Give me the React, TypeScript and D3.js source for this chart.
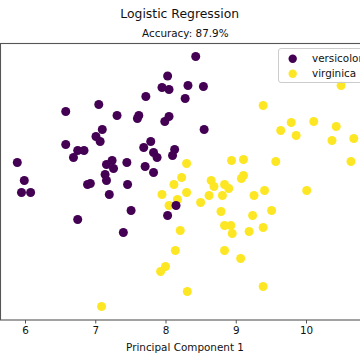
import React, { useEffect, useRef } from 'react';
import * as d3 from 'd3';

// versicolor points (PC1, PC2)
const versicolorX = [8.43, 8.03, 7.95, 8.05, 8.32, 8.54, 7.72, 8.28, 7.05, 6.58, 7.31, 7.62, 7.6, 8.05, 7.99, 7.1, 8.55, 7.01, 7.07, 6.58, 7.79, 7.69, 7.83, 7.88, 8.13, 8.1, 6.75, 6.84, 6.69, 5.89, 7.24, 7.16, 7.26, 7.45, 7.71, 7.83, 7.14, 5.99, 5.95, 6.08, 6.89, 6.93, 7.16, 7.46, 7.2, 6.75, 7.51, 7.4, 8.15, 8.03];
const versicolorY = [1.25, 1.055, 0.94, 0.92, 0.96, 0.95, 0.85, 0.83, 0.77, 0.7, 0.66, 0.66, 0.63, 0.65, 0.6, 0.52, 0.52, 0.45, 0.4, 0.37, 0.4, 0.34, 0.29, 0.24, 0.32, 0.26, 0.31, 0.31, 0.24, 0.19, 0.21, 0.17, 0.13, 0.19, 0.15, 0.09, 0.07, 0.01, -0.11, -0.11, -0.03, -0.02, 0.01, -0.03, -0.13, -0.38, -0.29, -0.51, -0.24, -0.34];

// virginica points (PC1, PC2)
const virginicaX = [10.5, 9.39, 9.79, 10.11, 9.64, 10.43, 9.86, 10.37, 10.68, 8.3, 8.94, 9.11, 9.57, 10.64, 8.23, 8.65, 8.69, 9.11, 9.08, 8.84, 8.9, 8.12, 8.3, 7.95, 8.17, 8.05, 8.62, 8.81, 8.5, 9.26, 9.41, 10.01, 8.79, 9.24, 9.51, 8.84, 8.93, 8.95, 9.19, 9.39, 8.21, 8.14, 8.84, 9.07, 8.0, 7.93, 9.39, 8.31, 7.09];
const virginicaY = [0.96, 0.76, 0.59, 0.6, 0.51, 0.55, 0.46, 0.41, 0.43, 0.18, 0.21, 0.22, 0.2, 0.2, 0.04, 0.01, -0.05, 0.06, 0.03, -0.03, -0.07, -0.03, -0.11, -0.13, -0.18, -0.24, -0.14, -0.14, -0.21, -0.14, -0.09, -0.09, -0.3, -0.34, -0.29, -0.44, -0.44, -0.52, -0.5, -0.46, -0.49, -0.69, -0.69, -0.77, -0.85, -0.9, -1.05, -1.1, -1.25];

const xTicks = [6, 7, 8, 9, 10];
const classNames = ['versicolor', 'virginica'];
const classColors = ['#440154', '#fde725'];

const App = () => {
  const chartRef = useRef(null);

  useEffect(() => {
    const svg = d3.select(chartRef.current);
    svg.selectAll('*').remove();

    const width = 360;
    const height = 360;
    const font = 'DejaVu Sans, sans-serif';
    const plot = { left: 0.5, right: 370, top: 43, bottom: 319.5 };

    svg.attr('width', width).attr('height', height);

    const xScale = d3.scaleLinear()
      .domain([5.644, 10.911])
      .range([0, 370]);

    const yScale = d3.scaleLinear()
      .domain([-1.385, 1.385])
      .range([320, 43]);

    svg.append('rect')
      .attr('width', width)
      .attr('height', height)
      .style('fill', '#fff');

    // points, virginica below versicolor
    const series = [
      { xs: virginicaX, ys: virginicaY, color: classColors[1] },
      { xs: versicolorX, ys: versicolorY, color: classColors[0] }
    ];
    series.forEach(s => {
      svg.append('g')
        .selectAll('circle')
        .data(s.xs.map((x, i) => [x, s.ys[i]]))
        .enter()
        .append('circle')
        .attr('cx', d => xScale(d[0]))
        .attr('cy', d => yScale(d[1]))
        .attr('r', 4.5)
        .style('fill', s.color);
    });

    // spines
    svg.append('rect')
      .attr('x', plot.left)
      .attr('y', plot.top + 0.5)
      .attr('width', plot.right - plot.left)
      .attr('height', plot.bottom - plot.top)
      .style('fill', 'none')
      .style('stroke', '#555')
      .style('stroke-width', 1.1);

    // x axis
    const xAxis = svg.append('g')
      .attr('transform', `translate(0,${plot.bottom + 0.5})`)
      .call(d3.axisBottom(xScale).tickValues(xTicks).tickSize(3.5).tickPadding(3.5).tickFormat(d3.format('d')));
    xAxis.select('.domain').remove();
    xAxis.selectAll('line').style('stroke', '#555');
    xAxis.selectAll('text')
      .style('font-family', font)
      .style('font-size', '10.4px')
      .style('fill', '#111');

    svg.append('text')
      .attr('x', 185)
      .attr('y', 350.5)
      .attr('text-anchor', 'middle')
      .style('font-family', font)
      .style('font-size', '10.4px')
      .style('fill', '#111')
      .text('Principal Component 1');

    // titles
    svg.append('text')
      .attr('x', 179.7)
      .attr('y', 17.5)
      .attr('text-anchor', 'middle')
      .style('font-family', font)
      .style('font-size', '12.4px')
      .style('fill', '#111')
      .text('Logistic Regression');

    svg.append('text')
      .attr('x', 185.3)
      .attr('y', 36.5)
      .attr('text-anchor', 'middle')
      .style('font-family', font)
      .style('font-size', '10.4px')
      .style('fill', '#111')
      .text('Accuracy: 87.9%');

    // legend
    const legend = svg.append('g').attr('transform', 'translate(278.5,48.5)');
    legend.append('rect')
      .attr('width', 100)
      .attr('height', 34)
      .attr('rx', 2.5)
      .style('fill', '#fff')
      .style('fill-opacity', 0.8)
      .style('stroke', '#ccc');

    const items = legend.selectAll('.legend-item')
      .data(classNames)
      .enter()
      .append('g')
      .attr('class', 'legend-item')
      .attr('transform', (d, i) => `translate(0,${10.2 + i * 15})`);

    items.append('circle')
      .attr('cx', 14.2)
      .attr('r', 4.2)
      .style('fill', (d, i) => classColors[i]);

    items.append('text')
      .attr('x', 33.5)
      .attr('y', 3.7)
      .style('font-family', font)
      .style('font-size', '10.4px')
      .style('fill', '#111')
      .text(d => d);
  }, []);

  return (
    <div style={{ position: 'absolute', left: 0, top: 0 }}>
      <svg ref={chartRef} style={{ display: 'block' }}></svg>
    </div>
  );
};

export default App;
